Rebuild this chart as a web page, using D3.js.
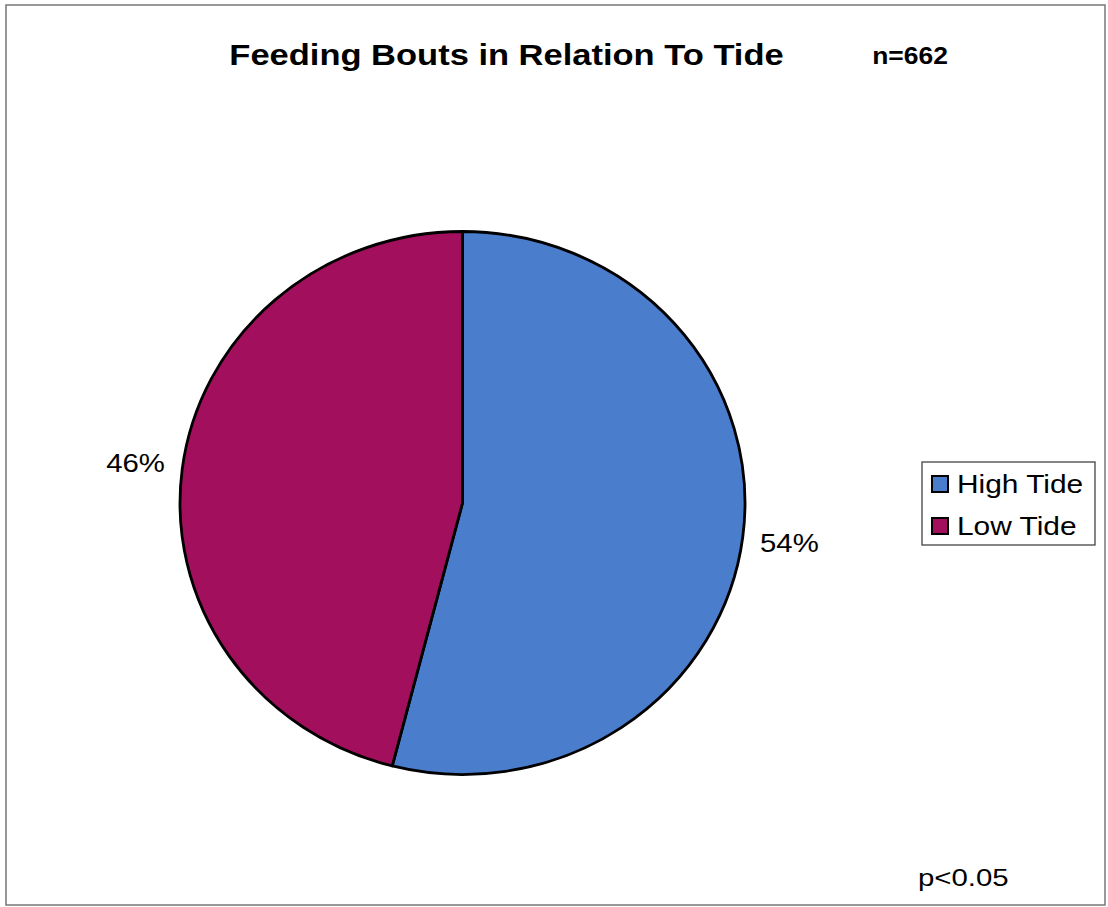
<!DOCTYPE html>
<html>
<head>
<meta charset="utf-8">
<script src="https://cdn.jsdelivr.net/npm/d3@7/dist/d3.min.js"></script>
<style>
  html, body { margin: 0; padding: 0; background: #fff; }
  svg { display: block; font-family: "Liberation Sans", Arial, sans-serif; }
</style>
</head>
<body>
<svg id="chart" width="1108" height="907"></svg>
<script>
// Share of feeding bouts by tide state (n = 662)
const categories = ["High Tide", "Low Tide"];
const shares = [54, 46];
const colors = ["#4a7ecd", "#a20f5c"];
const titleText = "Feeding Bouts in Relation To Tide";
const sampleText = "n=662";
const pText = "p<0.05";

const svg = d3.select("#chart");
const sx = 1.15; // text is drawn slightly widened

function placeText(sel, x, y, stretch = sx) {
  return sel.attr("transform", `translate(${x},${y}) scale(${stretch},1)`);
}

// Outer frame
svg.append("rect")
  .attr("x", 6).attr("y", 5)
  .attr("width", 1099).attr("height", 900)
  .attr("fill", "#fff")
  .attr("stroke", "#777").attr("stroke-width", 1.5);

// Title and sample size
placeText(svg.append("text"), 506.5, 65)
  .attr("text-anchor", "middle")
  .attr("font-size", 30).attr("font-weight", "bold")
  .text(titleText);
placeText(svg.append("text"), 910, 64)
  .attr("text-anchor", "middle")
  .attr("font-size", 23).attr("font-weight", "bold")
  .text(sampleText);

// Pie, slightly wider than tall
const cx = 462.5, cy = 503, rx = 282.5, ry = 271.5;
const pie = d3.pie().sort(null).value(d => d)(shares);
const arc = d3.arc().innerRadius(0).outerRadius(rx);

const g = svg.append("g")
  .attr("transform", `translate(${cx},${cy}) scale(1,${ry / rx})`);

g.selectAll("path.slice")
  .data(pie)
  .join("path")
  .attr("class", "slice")
  .attr("d", arc)
  .attr("fill", (d, i) => colors[i])
  .attr("stroke", "#000")
  .attr("stroke-width", 2.8)
  .attr("vector-effect", "non-scaling-stroke")
  .attr("stroke-linejoin", "round");

// Percentage labels just outside the rim
const labelArc = d3.arc().innerRadius(rx + 47).outerRadius(rx + 47);
svg.selectAll("text.pct")
  .data(pie)
  .join("text")
  .attr("class", "pct")
  .attr("transform", d => {
    const [x, y] = labelArc.centroid(d);
    return `translate(${cx + x},${cy + y * (ry / rx)}) scale(${sx},1)`;
  })
  .attr("text-anchor", "middle")
  .attr("dominant-baseline", "central")
  .attr("font-size", 25.5)
  .text(d => d.data + "%");

// Legend
const legend = svg.append("g").attr("transform", "translate(922,462)");
legend.append("rect")
  .attr("width", 173).attr("height", 83)
  .attr("fill", "#fff")
  .attr("stroke", "#444").attr("stroke-width", 1.3);
const items = legend.selectAll("g.item")
  .data(categories)
  .join("g")
  .attr("class", "item")
  .attr("transform", (d, i) => `translate(10,${14 + i * 42})`);
items.append("rect")
  .attr("width", 16).attr("height", 16)
  .attr("fill", (d, i) => colors[i])
  .attr("stroke", "#000").attr("stroke-width", 2);
items.append("text")
  .attr("transform", `translate(25,8) scale(${sx},1)`)
  .attr("dominant-baseline", "central")
  .attr("font-size", 26)
  .text(d => d);

// Significance note
placeText(svg.append("text"), 918, 886, 1.2)
  .attr("font-size", 24.5)
  .text(pText);
</script>
</body>
</html>
